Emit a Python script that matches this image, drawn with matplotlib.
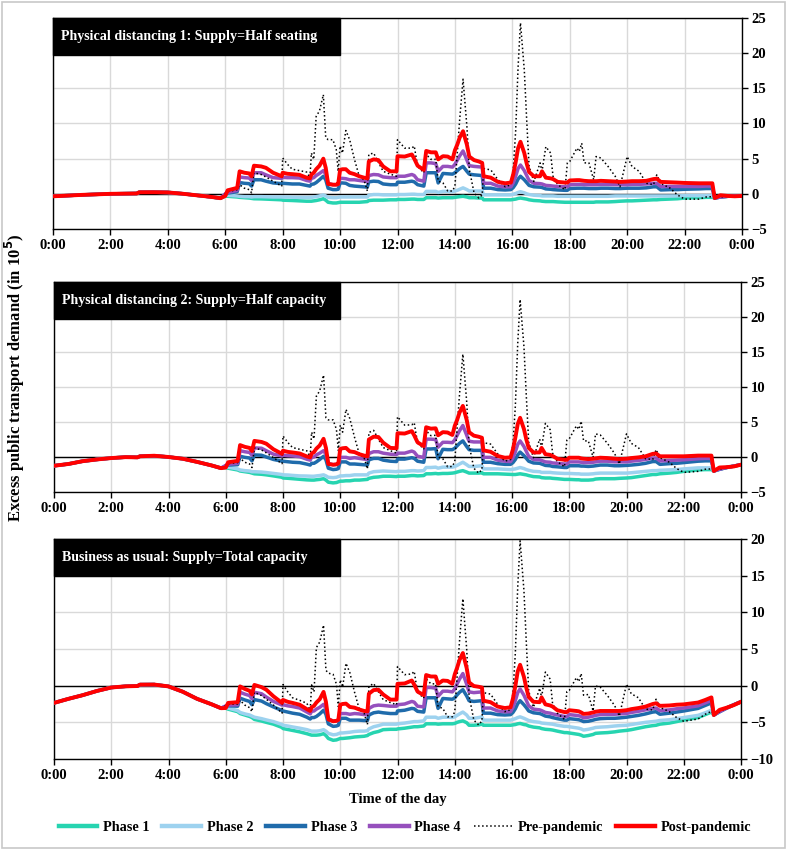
import numpy as np
import matplotlib
matplotlib.use("Agg")
from matplotlib import pyplot as plt
from matplotlib.patches import Rectangle
from matplotlib.lines import Line2D

plt.rcParams["font.family"] = ["Liberation Serif", "DejaVu Serif"]
plt.rcParams["font.weight"] = "bold"

# time of day in minutes (common grid for every series)
minutes = [0, 30, 60, 90, 120, 150, 175, 180, 210, 240, 270, 300, 330, 350,
           360, 365, 385, 390, 400, 410, 415, 420, 435, 445,
           460, 478, 480, 490, 500, 515, 530, 537, 540, 545,
           550, 557, 565, 570, 575, 585, 592, 596, 600, 605,
           612, 620, 630, 640, 650, 657, 660, 670, 680, 690,
           705, 718, 720, 735, 750, 755, 762, 775, 780, 790,
           800, 805, 815, 825, 835, 840, 845, 850, 857, 865,
           870, 880, 890, 897, 900, 915, 930, 945, 957, 962,
           967, 972, 977, 985, 990, 995, 1005, 1018, 1022, 1030,
           1040, 1045, 1055, 1070, 1075, 1080, 1095, 1100, 1105, 1110,
           1120, 1130, 1135, 1145, 1160, 1175, 1185, 1200, 1210, 1225,
           1240, 1255, 1262, 1270, 1290, 1305, 1320, 1350, 1365, 1378,
           1383, 1395, 1410, 1425, 1440]

# excess demand under "Physical distancing 1" (in 10^5)
phase1 = [-0.35, -0.25, -0.15, -0.07, 0.0, 0.03, 0.05, 0.22, 0.23, 0.2, 0.02, -0.2, -0.43, -0.62,
          -0.33, -0.35, -0.45, -0.5, -0.55, -0.6, -0.65, -0.7, -0.72, -0.75,
          -0.8, -0.85, -0.9, -0.92, -0.95, -1.0, -1.05, -1.05, -1.05, -1.0,
          -0.95, -0.85, -0.7, -0.9, -1.2, -1.3, -1.3, -1.25, -1.2, -1.2,
          -1.2, -1.2, -1.2, -1.2, -1.15, -1.1, -0.95, -0.9, -0.9, -0.9,
          -0.85, -0.85, -0.8, -0.8, -0.75, -0.75, -0.8, -0.8, -0.55, -0.55,
          -0.55, -0.6, -0.55, -0.55, -0.55, -0.5, -0.45, -0.4, -0.35, -0.45,
          -0.55, -0.55, -0.6, -0.6, -0.85, -0.85, -0.85, -0.85, -0.85, -0.8,
          -0.75, -0.65, -0.6, -0.7, -0.75, -0.85, -0.95, -1.0, -1.05, -1.1,
          -1.1, -1.1, -1.15, -1.2, -1.2, -1.2, -1.2, -1.2, -1.2, -1.2,
          -1.2, -1.2, -1.15, -1.15, -1.15, -1.1, -1.05, -1.0, -1.0, -0.95,
          -0.9, -0.85, -0.85, -0.8, -0.75, -0.7, -0.6, -0.55, -0.5, -0.5,
          -0.6, -0.45, -0.35, -0.3, -0.3]
phase2 = [-0.35, -0.25, -0.15, -0.07, 0.0, 0.03, 0.05, 0.22, 0.23, 0.2, 0.02, -0.2, -0.43, -0.62,
          -0.25, -0.2, -0.3, -0.35, -0.4, -0.4, -0.45, -0.4, -0.4, -0.42,
          -0.45, -0.45, -0.45, -0.45, -0.48, -0.5, -0.5, -0.5, -0.5, -0.45,
          -0.4, -0.3, -0.15, -0.3, -0.5, -0.55, -0.55, -0.5, -0.45, -0.45,
          -0.45, -0.45, -0.45, -0.45, -0.45, -0.45, -0.2, -0.1, -0.1, -0.15,
          -0.15, -0.15, -0.1, -0.1, -0.05, -0.05, -0.1, -0.1, 0.35, 0.35,
          0.35, 0.2, 0.35, 0.35, 0.3, 0.4, 0.5, 0.65, 0.85, 0.6,
          0.4, 0.4, 0.4, 0.4, -0.15, -0.15, -0.15, -0.15, -0.15, -0.05,
          0.05, 0.2, 0.3, 0.15, 0.0, -0.1, -0.2, -0.25, -0.3, -0.3,
          -0.3, -0.3, -0.35, -0.35, -0.35, -0.35, -0.35, -0.35, -0.35, -0.35,
          -0.35, -0.35, -0.35, -0.35, -0.35, -0.3, -0.3, -0.3, -0.3, -0.3,
          -0.3, -0.3, -0.3, -0.3, -0.3, -0.3, -0.25, -0.25, -0.25, -0.25,
          -0.6, -0.45, -0.35, -0.3, -0.3]
phase3 = [-0.35, -0.25, -0.15, -0.07, 0.0, 0.03, 0.05, 0.22, 0.23, 0.2, 0.02, -0.2, -0.43, -0.62,
          -0.1, 0.1, 0.3, 1.6, 1.5, 1.45, 1.1, 2.0, 2.0, 1.8,
          1.55, 1.45, 1.5, 1.45, 1.4, 1.4, 1.2, 1.1, 1.35, 1.4,
          1.6, 2.0, 2.5, 2.0, 0.8, 0.6, 0.6, 0.65, 1.55, 1.55,
          1.5, 1.2, 1.1, 1.05, 1.0, 0.95, 1.7, 1.8, 1.75, 1.4,
          1.3, 1.3, 1.65, 1.65, 1.8, 1.7, 1.3, 1.1, 3.0, 3.0,
          3.0, 1.55, 2.9, 2.85, 2.8, 3.0, 3.3, 3.6, 3.9, 3.2,
          2.8, 2.7, 2.65, 2.6, 0.8, 0.8, 0.6, 0.55, 0.6, 0.9,
          1.4, 2.1, 2.5, 2.0, 1.6, 1.2, 1.0, 0.95, 0.9, 0.7,
          0.65, 0.6, 0.55, 0.5, 0.5, 0.75, 0.8, 0.8, 0.8, 0.8,
          0.75, 0.75, 0.75, 0.8, 0.8, 0.75, 0.75, 0.8, 0.8, 0.8,
          0.85, 1.0, 1.0, 0.55, 0.6, 0.6, 0.65, 0.7, 0.75, 0.75,
          -0.6, -0.45, -0.35, -0.3, -0.3]
phase4 = [-0.35, -0.25, -0.15, -0.07, 0.0, 0.03, 0.05, 0.22, 0.23, 0.2, 0.02, -0.2, -0.43, -0.62,
          0.0, 0.2, 0.5, 2.4, 2.3, 2.25, 1.9, 3.0, 3.0, 2.7,
          2.3, 2.2, 2.35, 2.3, 2.3, 2.25, 1.9, 1.8, 2.2, 2.3,
          2.6, 2.9, 3.3, 2.8, 1.5, 1.3, 1.3, 1.35, 2.2, 2.2,
          2.15, 2.0, 2.0, 1.9, 1.8, 1.75, 2.6, 2.75, 2.7, 2.4,
          2.3, 2.3, 2.5, 2.5, 2.75, 2.6, 2.0, 1.8, 4.4, 4.4,
          4.3, 3.2, 3.9, 3.9, 3.8, 4.2, 4.8, 5.4, 6.1, 4.8,
          4.0, 3.9, 3.85, 3.8, 1.5, 1.5, 1.1, 1.0, 1.0, 1.6,
          2.5, 3.6, 4.1, 3.3, 2.6, 1.9, 1.5, 1.45, 1.4, 1.2,
          1.15, 1.1, 1.05, 1.0, 1.0, 1.3, 1.35, 1.35, 1.35, 1.3,
          1.3, 1.3, 1.3, 1.35, 1.35, 1.3, 1.3, 1.3, 1.35, 1.35,
          1.4, 1.5, 1.5, 1.05, 1.05, 1.05, 1.05, 1.05, 1.1, 1.1,
          -0.6, -0.45, -0.35, -0.3, -0.3]
pre_pandemic = [-0.35, -0.25, -0.15, -0.07, 0.0, 0.03, 0.05, 0.22, 0.23, 0.2, 0.02, -0.2, -0.43, -0.62,
                0.05, 0.3, 0.6, 1.3, 0.8, 0.6, 0.15, 3.0, 2.75, 2.4,
                1.8, 1.1, 5.1, 4.2, 3.5, 3.3, 3.1, 2.3, 5.8, 4.9,
                11.0, 11.8, 14.1, 8.0, 7.7, 7.7, 6.3, 3.2, 6.8, 5.8,
                9.0, 7.7, 4.9, 2.5, 2.0, 0.4, 5.6, 5.8, 4.5, 3.2,
                2.8, 2.5, 7.7, 6.5, 6.5, 6.8, 3.9, 3.0, 5.6, 4.9,
                4.9, 1.8, 1.55, 0.4, 0.4, 1.1, 5.8, 10.6, 16.3, 9.6,
                3.5, 0.15, -0.6, -0.15, 3.6, 3.4, 2.0, 1.0, 1.3, 3.5,
                9.0, 18.0, 24.3, 17.6, 10.5, 3.9, 1.75, 4.4, 3.2, 6.7,
                5.8, 2.5, 1.3, 0.6, 4.4, 4.6, 6.5, 6.0, 7.2, 4.4,
                4.4, 2.0, 5.3, 5.1, 3.9, 2.5, 1.0, 5.3, 3.9, 3.2,
                1.5, 1.3, 2.7, 1.5, 0.8, -0.15, -0.75, -0.75, -0.45, -0.4,
                -0.5, -0.45, -0.35, -0.3, -0.3]
post_pandemic = [-0.35, -0.25, -0.15, -0.07, 0.0, 0.03, 0.05, 0.22, 0.23, 0.2, 0.02, -0.2, -0.43, -0.62,
                 -0.3, 0.5, 0.85, 3.2, 3.0, 2.9, 2.5, 4.0, 3.9, 3.7,
                 3.0, 2.5, 3.0, 2.85, 2.8, 2.7, 2.3, 2.2, 2.75, 3.0,
                 3.5, 4.0, 5.0, 3.7, 1.4, 1.3, 1.3, 1.4, 3.4, 3.5,
                 3.5, 3.0, 2.8, 2.5, 2.3, 2.2, 4.6, 4.9, 4.8, 3.9,
                 3.2, 3.2, 5.35, 5.3, 5.6, 5.0, 4.0, 3.4, 6.1, 5.9,
                 5.9, 4.9, 5.35, 5.3, 4.9, 6.2, 7.0, 8.0, 8.9, 7.0,
                 5.3, 4.8, 4.6, 4.4, 2.5, 2.3, 1.7, 1.5, 1.6, 2.8,
                 4.5, 6.5, 7.4, 5.8, 4.3, 3.1, 2.5, 2.5, 3.2, 2.3,
                 2.2, 2.1, 1.7, 1.6, 1.6, 1.9, 1.95, 1.95, 1.9, 1.85,
                 1.8, 1.8, 1.8, 1.85, 1.8, 1.75, 1.7, 1.75, 1.8, 1.8,
                 1.85, 2.1, 2.15, 1.7, 1.65, 1.6, 1.55, 1.5, 1.5, 1.5,
                 -0.6, -0.2, -0.3, -0.35, -0.3]

# supply lost versus "half seating" in the other two scenarios (in 10^5)
gap_half_capacity = [0.9, 0.75, 0.45, 0.28, 0.15, 0.05, 0.1, 0.12, 0.05, 0.2, 0.27, 0.5, 0.77, 0.97,
                     1.2, 1.25, 1.4, 1.5, 1.55, 1.6, 1.65, 1.7, 1.75, 1.8,
                     1.9, 2.05, 2.1, 2.12, 2.15, 2.2, 2.22, 2.25, 2.25, 2.3,
                     2.3, 2.35, 2.4, 2.4, 2.4, 2.4, 2.35, 2.3, 2.25, 2.25,
                     2.2, 2.2, 2.1, 2.1, 2.1, 2.1, 2.1, 2.0, 1.95, 1.85,
                     1.9, 1.95, 1.95, 1.95, 1.9, 1.9, 1.9, 1.85, 1.85, 1.85,
                     1.8, 1.8, 1.8, 1.8, 1.75, 1.75, 1.7, 1.65, 1.6, 1.7,
                     1.75, 1.75, 1.7, 1.65, 1.55, 1.55, 1.55, 1.6, 1.65, 1.7,
                     1.75, 1.8, 1.8, 1.8, 1.8, 1.8, 1.85, 1.85, 1.9, 1.9,
                     1.9, 1.95, 1.95, 2.0, 2.0, 2.0, 2.05, 2.05, 2.1, 2.1,
                     2.1, 2.05, 2.0, 1.95, 1.95, 2.0, 2.0, 2.0, 1.95, 1.85,
                     1.75, 1.65, 1.65, 1.6, 1.55, 1.5, 1.45, 1.3, 1.3, 1.3,
                     1.4, 1.3, 1.15, 1.0, 0.8]
gap_total_capacity = [2.0, 1.55, 1.15, 0.65, 0.25, 0.12, 0.1, 0.08, 0.08, 0.3, 0.85, 1.6, 2.1, 2.45,
                      2.75, 2.85, 3.1, 3.3, 3.45, 3.6, 3.7, 3.9, 4.1, 4.25,
                      4.45, 4.85, 4.95, 5.05, 5.15, 5.3, 5.5, 5.65, 5.7, 5.75,
                      5.8, 5.85, 5.85, 5.9, 6.0, 6.15, 6.1, 6.05, 6.0, 6.0,
                      5.95, 5.9, 5.8, 5.75, 5.75, 5.7, 5.7, 5.5, 5.35, 5.1,
                      5.1, 5.1, 5.1, 5.0, 4.9, 4.85, 4.8, 4.7, 4.65, 4.65,
                      4.65, 4.65, 4.65, 4.65, 4.65, 4.65, 4.55, 4.5, 4.45, 4.6,
                      4.85, 4.85, 4.75, 4.65, 4.55, 4.55, 4.55, 4.55, 4.55, 4.55,
                      4.55, 4.55, 4.55, 4.6, 4.6, 4.65, 4.7, 4.75, 4.8, 4.85,
                      4.9, 4.95, 5.05, 5.2, 5.2, 5.25, 5.4, 5.45, 5.55, 5.7,
                      5.6, 5.45, 5.35, 5.3, 5.25, 5.2, 5.15, 5.1, 5.0, 4.85,
                      4.7, 4.6, 4.55, 4.45, 4.35, 4.2, 4.1, 3.8, 3.45, 3.1,
                      3.4, 3.1, 2.7, 2.3, 1.9]
no_gap = [0.0] * len(minutes)

series_names = ["Phase 1", "Phase 2", "Phase 3", "Phase 4", "Pre-pandemic", "Post-pandemic"]
series_values = [phase1, phase2, phase3, phase4, pre_pandemic, post_pandemic]
series_colors = ["#26d4b0", "#9dd2ef", "#1f6bab", "#9650bd", "black", "#ff0000"]
series_widths = [2.5, 2.5, 2.5, 2.5, 1.1, 2.8]
series_styles = ["-", "-", "-", "-", ":", "-"]

titles = ["Physical distancing 1: Supply=Half seating",
          "Physical distancing 2: Supply=Half capacity",
          "Business as usual: Supply=Total capacity"]
gaps = [no_gap, gap_half_capacity, gap_total_capacity]
ylims = [(-5, 25), (-5, 25), (-10, 20)]
tick_labels = ["0:00", "2:00", "4:00", "6:00", "8:00", "10:00", "12:00",
               "14:00", "16:00", "18:00", "20:00", "22:00", "0:00"]

W, H = 786, 849
fig = plt.figure(figsize=(W / 100, H / 100), dpi=100)
# panel frames in pixels: left, top, right, bottom
frames = [(53, 18, 742, 229), (54, 282, 741, 492), (54, 539, 741, 759)]

hours = np.array(minutes) / 60.0
for title, gap, ylim, (l, t, r, b) in zip(titles, gaps, ylims, frames):
    ax = fig.add_axes([l / W, 1 - b / H, (r - l) / W, (b - t) / H])
    for name, vals, col, lw, ls in zip(series_names, series_values, series_colors, series_widths, series_styles):
        ax.plot(hours, np.array(vals) - np.array(gap), color=col, lw=lw, ls=ls, zorder=3)
    ax.axhline(0, color="black", lw=1.0, zorder=2)
    ax.set_xlim(0, 24)
    ax.set_ylim(*ylim)
    ax.set_xticks(range(0, 25, 2))
    ax.set_xticklabels(tick_labels)
    ax.set_yticks(range(ylim[0], ylim[1] + 1, 5))
    ax.yaxis.tick_right()
    ax.grid(True, color="#d9d9d9", lw=1.0, zorder=0)
    ax.set_axisbelow(True)
    ax.tick_params(axis="both", direction="out", length=4, width=1, labelsize=10.5, pad=3)
    for lab in ax.get_xticklabels() + ax.get_yticklabels():
        lab.set_fontweight("bold")
    for sp in ax.spines.values():
        sp.set_color("black")
        sp.set_linewidth(1.0)
    bw = (340 - l) / (r - l)
    bh = 37 / (b - t)
    ax.add_patch(Rectangle((0, 1 - bh), bw, bh, transform=ax.transAxes,
                           facecolor="black", edgecolor="black", zorder=6, clip_on=False))
    ax.text(8 / (r - l), 1 - bh / 2, title, transform=ax.transAxes, color="white",
            fontsize=10.1, fontweight="bold", va="center", ha="left", zorder=7)

fig.text(15 / W, 1 - 378 / H, "Excess public transport demand (in 10$^{\\mathbf{5}}$)",
         rotation=90, ha="center", va="center", fontsize=12, fontweight="bold")
fig.text(0.5 * (54 + 741) / W, 1 - 799 / H, "Time of the day", ha="center", va="center",
         fontsize=10.5, fontweight="bold")

handles = [Line2D([], [], color=c, lw=(3.2 if s == "-" else 1.1), ls=s)
           for c, s in zip(series_colors, series_styles)]
fig.legend(handles, series_names, loc="center", bbox_to_anchor=(405 / W, 1 - 827 / H), ncol=6,
           frameon=False, handlelength=2.7, handletextpad=0.4, columnspacing=0.9,
           prop={"weight": "bold", "size": 10.3})

fig.patches.append(Rectangle((1.5 / W, 1.5 / H), 1 - 3 / W, 1 - 3 / H, transform=fig.transFigure,
                             fill=False, edgecolor="#c8c8c8", lw=1.2))

fig.savefig("out.png", dpi=100)
